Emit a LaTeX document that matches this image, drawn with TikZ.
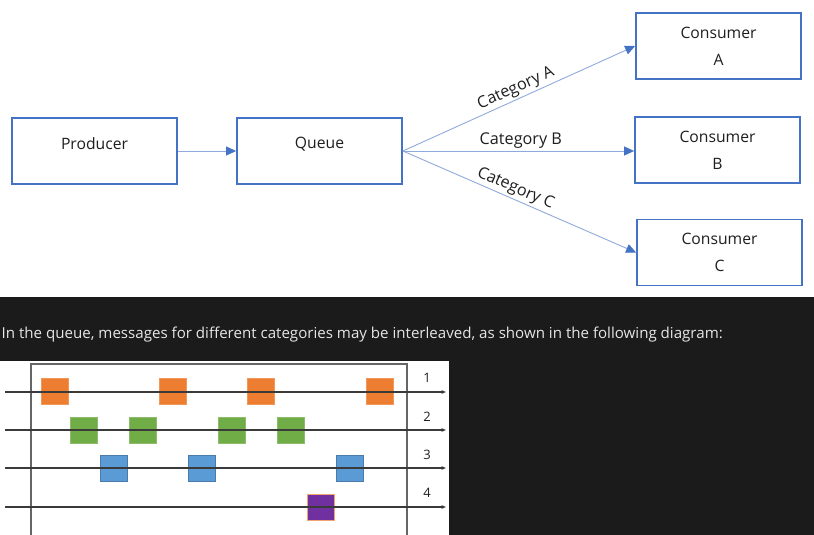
\documentclass[tikz,border=0pt]{standalone}
\usepackage{fontspec}
\setmainfont{Open Sans}
\usetikzlibrary{arrows.meta}
\definecolor{boxblue}{HTML}{4472C4}
\definecolor{lineblue}{HTML}{8FAADC}
\definecolor{darkbg}{HTML}{1B1B1B}
\definecolor{captext}{HTML}{E6E6E6}
\definecolor{sqorange}{HTML}{ED7D31}
\definecolor{sqgreen}{HTML}{70AD47}
\definecolor{sqblue}{HTML}{5B9BD5}
\definecolor{sqpurple}{HTML}{7030A0}
\definecolor{rule}{HTML}{3A3A3A}
\definecolor{ink}{HTML}{1F1F1F}
\tikzset{
  flowbox/.style={draw=boxblue, line width=1.8pt, minimum width=165pt, minimum height=66pt, inner sep=0pt, fill=white, text=ink},
  boxtext/.style={font=\fontsize{15.7}{27}\selectfont, align=center, text=ink},
  conn/.style={draw=lineblue, line width=0.9pt, -{Triangle[length=10pt,width=9pt,color=boxblue]}},
  catlabel/.style={font=\fontsize{16.2}{18}\selectfont, sloped, above, inner sep=2pt, text=ink},
  msg/.style={minimum width=27pt, minimum height=26pt, inner sep=0pt, line width=0.8pt},
  lane/.style={draw=rule, line width=1.2pt, -{Triangle[length=4.5pt,width=3.5pt]}},
  frameline/.style={draw=gray!80!black, line width=1.2pt},
  lanenum/.style={font=\fontsize{13}{14}\selectfont, inner sep=0pt, text=ink}
}
\begin{document}
\begin{tikzpicture}[x=1pt,y=-1pt]
\useasboundingbox (0,0) rectangle (814,535);
\fill[white] (0,0) rectangle (814,297);
\fill[darkbg] (0,297) rectangle (814,535);

% top flow
\node[flowbox, label={[boxtext, yshift=7pt]center:Producer}] (P) at (94.5,151) {};
\node[flowbox, label={[boxtext, yshift=7pt]center:Queue}] (Q) at (319.5,151) {};
\node[flowbox, boxtext] (A) at (718.5,46) {Consumer\\A};
\node[flowbox, boxtext] (B) at (717.5,150) {Consumer\\B};
\node[flowbox, boxtext] (C) at (719.5,252.5) {Consumer\\C};

\draw[conn] (P.east) -- (Q.west);
\draw[conn] (Q.east) -- node[catlabel, pos=0.505] {Category A} (A.west);
\draw[conn] (Q.east) -- node[catlabel, pos=0.51] {Category B} ([yshift=-1pt]B.west);
\draw[conn] (Q.east) -- node[catlabel, pos=0.465] {Category C} (C.west);

% caption
\node[anchor=west, inner sep=0pt, text=captext, font=\fontsize{15.1}{19}\selectfont] (cap) at (1.5,335) {In the queue, messages for different categories may be interleaved, as shown in the following diagram:};

% lower diagram
\fill[white] (0,361) rectangle (449,535);

\node[msg, fill=sqorange, draw=sqorange!80!white] (o1) at (54.5,391) {};
\node[msg, fill=sqorange, draw=sqorange!80!white] (o2) at (172.5,391) {};
\node[msg, fill=sqorange, draw=sqorange!80!white] (o3) at (260.5,391) {};
\node[msg, fill=sqorange, draw=sqorange!80!white] (o4) at (379.5,391) {};
\node[msg, fill=sqgreen, draw=sqgreen!80!white] (g1) at (83.5,430) {};
\node[msg, fill=sqgreen, draw=sqgreen!80!white] (g2) at (142.5,430) {};
\node[msg, fill=sqgreen, draw=sqgreen!80!white] (g3) at (231.5,430) {};
\node[msg, fill=sqgreen, draw=sqgreen!80!white] (g4) at (290.5,430) {};
\node[msg, fill=sqblue, draw=sqblue!80!black] (b1) at (113.5,468) {};
\node[msg, fill=sqblue, draw=sqblue!80!black] (b2) at (201.5,468) {};
\node[msg, fill=sqblue, draw=sqblue!80!black] (b3) at (349.5,468) {};
\node[msg, fill=sqpurple, draw=sqorange!70!white] (p1) at (320.5,507.5) {};

\draw[frameline] (31,535) -- (31,364) -- (407,364) -- (407,535);

\coordinate (s1) at (5,392);   \coordinate (e1) at (446,392);
\coordinate (s2) at (5,430);   \coordinate (e2) at (446,430);
\coordinate (s3) at (5,468);   \coordinate (e3) at (446,468);
\coordinate (s4) at (5,507);   \coordinate (e4) at (446,507);
\draw[lane] (s1) -- (e1);
\draw[lane] (s2) -- (e2);
\draw[lane] (s3) -- (e3);
\draw[lane] (s4) -- (e4);

\node[lanenum] (n1) at (427,378) {1};
\node[lanenum] (n2) at (427,417) {2};
\node[lanenum] (n3) at (427,455) {3};
\node[lanenum] (n4) at (427,493) {4};
\end{tikzpicture}
\end{document}
